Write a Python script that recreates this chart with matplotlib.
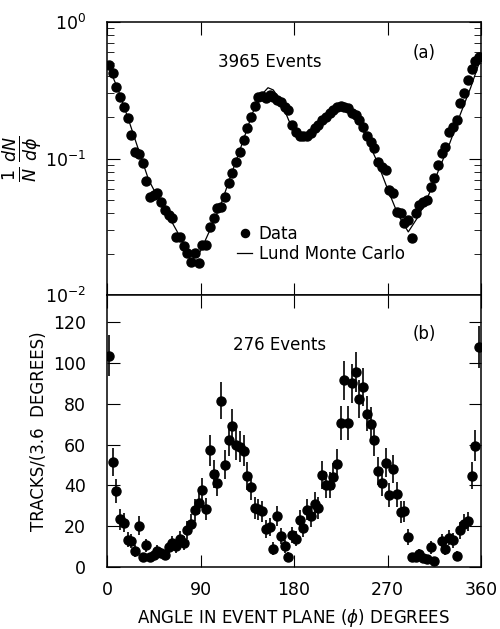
import numpy as np
import matplotlib
matplotlib.use("Agg")
import matplotlib.pyplot as plt
from matplotlib.ticker import LogLocator, NullFormatter, FixedLocator

# 100 bins of 3.6 degrees
bin_width = 3.6
phi = np.arange(bin_width / 2, 360, bin_width)

# (a) 1/N dN/dphi, 3965 events
dndphi = [0.484, 0.421, 0.336, 0.281, 0.240, 0.197, 0.149, 0.112, 0.108, 0.093,
          0.068, 0.052, 0.054, 0.056, 0.048, 0.042, 0.0386, 0.0365, 0.0267, 0.0264,
          0.0229, 0.0204, 0.0175, 0.0202, 0.0171, 0.0232, 0.0232, 0.0317, 0.0365, 0.0431,
          0.0444, 0.0525, 0.0658, 0.0779, 0.0948, 0.112, 0.137, 0.166, 0.202, 0.243,
          0.284, 0.287, 0.276, 0.292, 0.284, 0.268, 0.261, 0.240, 0.227, 0.176,
          0.157, 0.145, 0.147, 0.145, 0.153, 0.166, 0.176, 0.191, 0.202, 0.214,
          0.227, 0.237, 0.243, 0.237, 0.235, 0.214, 0.208, 0.191, 0.171, 0.145,
          0.133, 0.119, 0.0948, 0.0871, 0.0824, 0.0588, 0.056, 0.0408, 0.0397, 0.0335,
          0.0354, 0.026, 0.040, 0.0456, 0.048, 0.0497, 0.0622, 0.0716, 0.0896, 0.109,
          0.122, 0.157, 0.171, 0.191, 0.254, 0.300, 0.376, 0.450, 0.518, 0.557]

# Lund Monte Carlo curve
mc_phi = [0, 10, 20, 30, 40, 50, 60, 70, 80, 85, 90, 100, 110, 120, 130, 140, 150,
          155, 160, 165, 170, 175, 180, 185, 190, 200, 210, 220, 225, 230, 240, 250,
          260, 270, 280, 290, 300, 310, 320, 330, 340, 350, 360]
mc_val = [0.50, 0.33, 0.20, 0.118, 0.070, 0.050, 0.037, 0.027, 0.0195, 0.019, 0.021,
          0.031, 0.047, 0.078, 0.128, 0.215, 0.30, 0.33, 0.318, 0.28, 0.235, 0.19,
          0.16, 0.147, 0.145, 0.165, 0.20, 0.235, 0.245, 0.24, 0.205, 0.14, 0.095,
          0.06, 0.039, 0.029, 0.038, 0.055, 0.085, 0.13, 0.21, 0.33, 0.55]

# (b) tracks per 3.6 degrees, 276 events
tracks = [103.5, 51.5, 37.2, 23.3, 21.8, 13.4, 12.8, 7.8, 20.3, 4.7,
          10.6, 4.7, 6.1, 7.8, 6.8, 6.0, 9.8, 11.8, 10.2, 13.9,
          11.7, 18.2, 21.2, 27.8, 31.5, 37.7, 28.5, 57.3, 45.7, 41.3,
          81.5, 50.0, 62.2, 69.0, 60.0, 59.0, 57.0, 44.6, 39.2, 28.7,
          28.2, 27.2, 18.7, 19.5, 9.0, 24.9, 15.1, 10.2, 4.9, 15.6,
          13.9, 23.0, 19.3, 28.1, 24.8, 31.1, 29.1, 45.0, 40.1, 40.1,
          44.2, 50.6, 70.4, 91.4, 70.4, 90.1, 95.4, 82.3, 88.2, 75.2,
          70.0, 62.2, 47.2, 41.3, 51.2, 35.1, 48.0, 35.6, 27.0, 27.3,
          14.9, 4.7, 4.9, 6.2, 4.2, 3.7, 9.6, 3.0, np.nan, 12.8,
          8.8, 14.4, 13.1, 5.5, 17.9, 21.3, 22.3, 44.8, 59.5, 107.7]
tracks_err = [10.0, 7.0, 6.0, 5.0, 4.7, 3.7, 3.6, 2.8, 4.5, 2.2,
              3.3, 2.2, 2.5, 2.8, 2.6, 2.4, 3.1, 3.4, 3.2, 3.7,
              3.4, 4.3, 4.6, 5.3, 5.6, 6.1, 5.3, 7.6, 6.8, 6.4,
              9.0, 7.1, 7.9, 8.3, 7.7, 7.7, 7.5, 6.7, 6.3, 5.4,
              5.3, 5.2, 4.3, 4.4, 3.0, 5.0, 3.9, 3.2, 2.2, 3.9,
              3.7, 4.8, 4.4, 5.3, 5.0, 5.6, 5.4, 6.7, 6.3, 6.3,
              6.6, 7.1, 8.4, 9.6, 8.4, 9.5, 9.8, 9.1, 9.4, 8.7,
              8.4, 7.9, 6.9, 6.4, 7.2, 5.9, 6.9, 6.0, 5.2, 5.2,
              3.9, 2.2, 2.2, 2.5, 2.0, 1.9, 3.1, 1.7, np.nan, 3.6,
              3.0, 3.8, 3.6, 2.3, 4.2, 4.6, 4.7, 6.7, 7.7, 10.4]

plt.rcParams['font.family'] = 'DejaVu Sans'
plt.rcParams['mathtext.fontset'] = 'dejavusans'

fig = plt.figure(figsize=(5.0, 6.29), dpi=100)
ax1 = fig.add_axes([0.214, 0.531, 0.748, 0.434])
ax2 = fig.add_axes([0.214, 0.0986, 0.748, 0.4324], sharex=ax1)

# top panel
ax1.plot(mc_phi, mc_val, color='black', lw=0.9, label='Lund Monte Carlo', zorder=2)
ax1.plot(phi, dndphi, 'o', color='black', ms=6.5, label='Data', zorder=3)
ax1.set_yscale('log')
ax1.set_ylim(0.01, 1.0)
ax1.set_xlim(0, 360)
ax1.yaxis.set_major_locator(LogLocator(base=10, numticks=5))
ax1.yaxis.set_minor_locator(LogLocator(base=10, subs=np.arange(2, 10), numticks=20))
ax1.yaxis.set_minor_formatter(NullFormatter())
ax1.xaxis.set_major_locator(FixedLocator([90, 180, 270]))
ax1.tick_params(axis='both', which='both', direction='in', top=True, right=True,
                labelbottom=False, labelsize=12.5)
ax1.tick_params(axis='y', which='major', length=9, pad=15)
ax1.tick_params(axis='y', which='minor', length=5)
ax1.tick_params(axis='x', which='major', length=9)
ax1.set_ylabel(r'$\frac{1}{N}\,\frac{dN}{d\phi}$', fontsize=18, labelpad=0)
ax1.text(157, 0.51, '3965 Events', fontsize=12, ha='center', va='center')
ax1.text(305, 0.59, '(a)', fontsize=12, ha='center', va='center')
handles, labels = ax1.get_legend_handles_labels()
ax1.legend(handles[::-1], labels[::-1], loc='upper left', bbox_to_anchor=(0.33, 0.28),
           frameon=False, fontsize=12, handlelength=0.9, handletextpad=0.4,
           borderaxespad=0, labelspacing=0.1, markerscale=0.9)

# bottom panel
ax2.errorbar(phi, tracks, yerr=tracks_err, fmt='o', color='black', ms=6.5,
             elinewidth=1.2, capsize=0)
ax2.set_ylim(0, 133.3)
ax2.set_yticks([0, 20, 40, 60, 80, 100, 120])
ax2.set_xticks([0, 90, 180, 270, 360])
ax2.tick_params(axis='both', which='both', direction='in', top=True, right=True,
                labelsize=12.5, length=9)
ax2.tick_params(axis='y', pad=15)
ax2.tick_params(axis='x', pad=10)
ax2.set_ylabel('TRACKS/(3.6  DEGREES)', fontsize=12, labelpad=4)
ax2.set_xlabel(r'ANGLE IN EVENT PLANE ($\phi$) DEGREES', fontsize=12, labelpad=6)
ax2.text(166, 109, '276 Events', fontsize=12, ha='center', va='center')
ax2.text(305, 114, '(b)', fontsize=12, ha='center', va='center')

for ax in (ax1, ax2):
    for s in ax.spines.values():
        s.set_linewidth(1.1)

fig.savefig('out.png', dpi=100)
